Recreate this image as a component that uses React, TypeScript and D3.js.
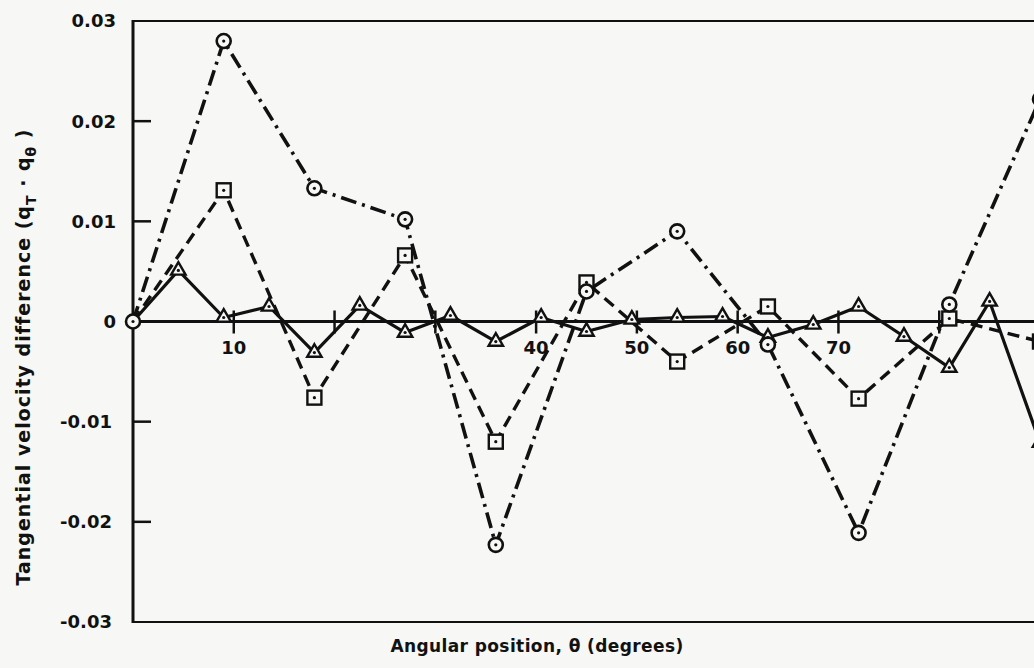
import React, { useEffect, useRef } from 'react'
import * as d3 from 'd3'

// angular stations (degrees)
const thetaCoarse = [0, 9, 18, 27, 36, 45, 54, 63, 72, 81, 90]
const thetaFine = [0, 4.5, 9, 13.5, 18, 22.5, 27, 31.5, 36, 40.5, 45, 49.5, 54, 58.5, 63, 67.5, 72, 76.5, 81, 85, 90]

// tangential velocity difference
const circleValues = [0, 0.028, 0.0133, 0.0102, -0.0223, 0.003, 0.009, -0.0023, -0.0211, 0.0017, 0.0222]
const squareValues = [0, 0.0131, -0.0076, 0.0066, -0.012, 0.0039, -0.004, 0.0015, -0.0077, 0.0003, -0.002]
const triangleValues = [0, 0.0051, 0.0004, 0.0015, -0.0031, 0.0016, -0.0011, 0.0006, -0.002, 0.0004, -0.001,
  0.0002, 0.0004, 0.0005, -0.0016, -0.0003, 0.0015, -0.0015, -0.0046, 0.002, -0.0121]

const xTicks = [10, 20, 30, 40, 50, 60, 70, 80]
const xTickLabels = [10, 40, 50, 60, 70]
const yTicks = [0.03, 0.02, 0.01, 0, -0.01, -0.02, -0.03]
const yTickLabels = ['0.03', '0.02', '0.01', '0', '-0.01', '-0.02', '-0.03']

const BG = '#f7f7f5'
const INK = '#111'

type Pt = [number, number]

export default function App () {
  const ref = useRef<SVGSVGElement>(null)

  useEffect(() => {
    const svg = d3.select(ref.current)
    svg.selectAll('*').remove()

    const x = d3.scaleLinear().domain([0, 90]).range([133, 1040])
    const y = d3.scaleLinear().domain([-0.03, 0.03]).range([622, 21])

    const font = '"DejaVu Sans", Arial, sans-serif'

    // frame
    svg.append('line').attr('x1', x(0)).attr('x2', 1040).attr('y1', y(0.03)).attr('y2', y(0.03))
      .attr('stroke', INK).attr('stroke-width', 2)
    svg.append('line').attr('x1', x(0)).attr('x2', 1040).attr('y1', y(-0.03)).attr('y2', y(-0.03))
      .attr('stroke', INK).attr('stroke-width', 2)
    svg.append('line').attr('x1', x(0)).attr('x2', x(0)).attr('y1', y(0.03) - 1).attr('y2', y(-0.03) + 1)
      .attr('stroke', INK).attr('stroke-width', 3)
    // zero line
    svg.append('line').attr('x1', x(0)).attr('x2', 1040).attr('y1', y(0)).attr('y2', y(0))
      .attr('stroke', INK).attr('stroke-width', 3)

    // y ticks and labels
    svg.selectAll('.ytick')
      .data(yTicks.filter((d) => Math.abs(d) > 1e-9 && Math.abs(d) < 0.029))
      .enter().append('line')
      .attr('class', 'ytick')
      .attr('x1', x(0)).attr('x2', x(0) + 18)
      .attr('y1', (d) => y(d)).attr('y2', (d) => y(d))
      .attr('stroke', INK).attr('stroke-width', 2.5)

    svg.selectAll('.ylabel')
      .data(yTicks)
      .enter().append('text')
      .attr('class', 'ylabel')
      .attr('x', (d) => (d < 0 ? 112 : 116))
      .attr('y', (d) => y(d))
      .attr('dy', '0.36em')
      .attr('text-anchor', 'end')
      .attr('font-family', font)
      .attr('font-weight', 'bold')
      .attr('font-size', 18)
      .attr('fill', INK)
      .text((d, i) => yTickLabels[i])

    // x ticks on the zero line
    svg.selectAll('.xtick')
      .data(xTicks)
      .enter().append('line')
      .attr('class', 'xtick')
      .attr('x1', (d) => x(d)).attr('x2', (d) => x(d))
      .attr('y1', y(0) - 11).attr('y2', y(0) + 12)
      .attr('stroke', INK).attr('stroke-width', 2.5)

    svg.selectAll('.xlabel')
      .data(xTickLabels)
      .enter().append('text')
      .attr('class', 'xlabel')
      .attr('x', (d) => x(d))
      .attr('y', y(0) + 26)
      .attr('dy', '0.36em')
      .attr('text-anchor', 'middle')
      .attr('font-family', font)
      .attr('font-weight', 'bold')
      .attr('font-size', 18)
      .attr('fill', INK)
      .text((d) => d)

    // series lines
    const line = d3.line<Pt>().x((d) => x(d[0])).y((d) => y(d[1]))
    const circles: Pt[] = thetaCoarse.map((t, i) => [t, circleValues[i]])
    const squares: Pt[] = thetaCoarse.map((t, i) => [t, squareValues[i]])
    const triangles: Pt[] = thetaFine.map((t, i) => [t, triangleValues[i]])

    svg.append('path').attr('d', line(triangles))
      .attr('fill', 'none').attr('stroke', INK).attr('stroke-width', 3.2)
      .attr('stroke-linejoin', 'round')
    svg.append('path').attr('d', line(squares))
      .attr('fill', 'none').attr('stroke', INK).attr('stroke-width', 3.4)
      .attr('stroke-dasharray', '12 7')
    svg.append('path').attr('d', line(circles))
      .attr('fill', 'none').attr('stroke', INK).attr('stroke-width', 3.6)
      .attr('stroke-dasharray', '16 6 3 6')

    // markers (background filled so the lines stop at their edge)
    const tri = d3.symbol().type(d3.symbolTriangle).size(90)
    svg.selectAll('.tri')
      .data(triangles.slice(1))
      .enter().append('path')
      .attr('class', 'tri')
      .attr('transform', (d) => `translate(${x(d[0])},${y(d[1])})`)
      .attr('d', tri())
      .attr('fill', BG).attr('stroke', INK).attr('stroke-width', 2.4)

    svg.selectAll('.sq')
      .data(squares.slice(1))
      .enter().append('rect')
      .attr('class', 'sq')
      .attr('x', (d) => x(d[0]) - 7).attr('y', (d) => y(d[1]) - 7)
      .attr('width', 14).attr('height', 14)
      .attr('fill', BG).attr('stroke', INK).attr('stroke-width', 2.4)

    svg.selectAll('.circ')
      .data(circles)
      .enter().append('circle')
      .attr('class', 'circ')
      .attr('cx', (d) => x(d[0])).attr('cy', (d) => y(d[1]))
      .attr('r', 7)
      .attr('fill', BG).attr('stroke', INK).attr('stroke-width', 2.6)

    // centre dots
    const allPts = [...triangles.slice(1), ...squares.slice(1), ...circles]
    svg.selectAll('.dot')
      .data(allPts)
      .enter().append('circle')
      .attr('class', 'dot')
      .attr('cx', (d) => x(d[0])).attr('cy', (d) => y(d[1]))
      .attr('r', 1.6)
      .attr('fill', INK)

    // axis titles
    svg.append('text')
      .attr('x', 537).attr('y', 652)
      .attr('text-anchor', 'middle')
      .attr('font-family', font)
      .attr('font-weight', 'bold')
      .attr('font-size', 17)
      .attr('letter-spacing', 0.4)
      .attr('fill', INK)
      .text('Angular position, θ (degrees)')

    const yt = svg.append('text')
      .attr('transform', 'translate(30,357) rotate(-90)')
      .attr('text-anchor', 'middle')
      .attr('font-family', font)
      .attr('font-weight', 'bold')
      .attr('font-size', 19)
      .attr('letter-spacing', 1)
      .attr('fill', INK)
    yt.append('tspan').text('Tangential velocity difference (q')
    yt.append('tspan').attr('dy', 6).attr('font-size', 14).text('T')
    yt.append('tspan').attr('dy', -6).text(' · q')
    yt.append('tspan').attr('dy', 6).attr('font-size', 14).text('θ')
    yt.append('tspan').attr('dy', -6).text(' )')
  }, [])

  return (
    <svg
      ref={ref}
      width={1034}
      height={668}
      style={{ position: 'fixed', left: 0, top: 0, background: BG }}
    />
  )
}
